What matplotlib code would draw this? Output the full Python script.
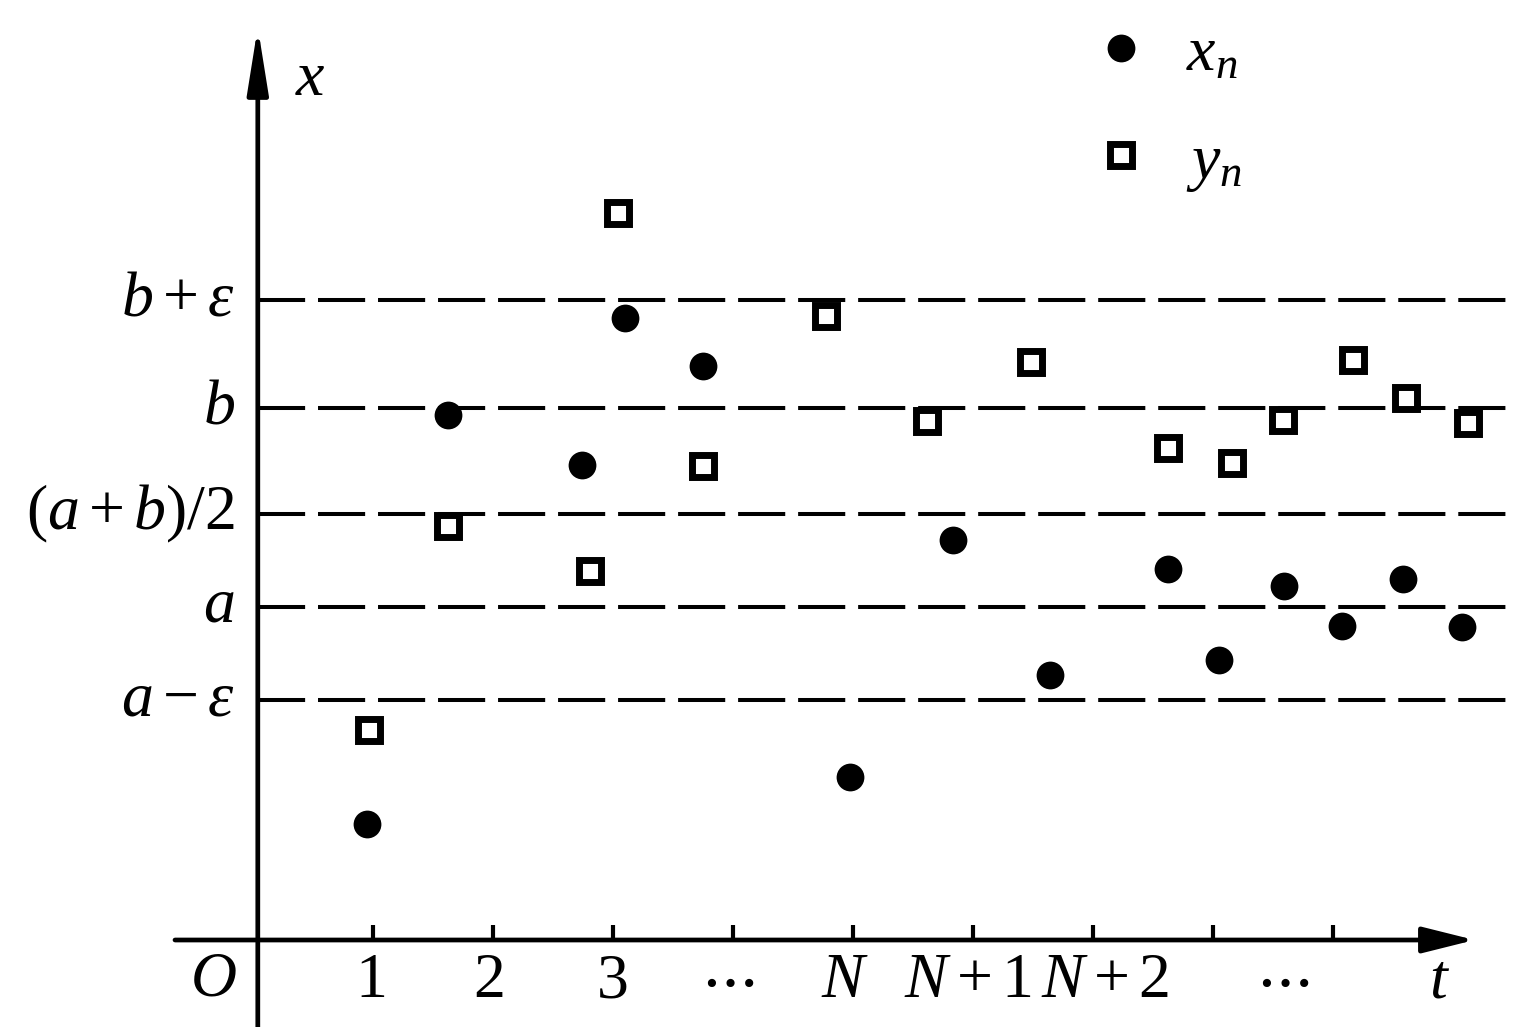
import numpy as np
import matplotlib
matplotlib.use("Agg")
import matplotlib.pyplot as plt

plt.rcParams['font.family'] = ['Liberation Serif', 'DejaVu Serif']
plt.rcParams['mathtext.fontset'] = 'custom'
plt.rcParams['mathtext.rm'] = 'Liberation Serif'
plt.rcParams['mathtext.it'] = 'Liberation Serif:italic'
plt.rcParams['mathtext.bf'] = 'Liberation Serif:bold'

# horizontal reference levels (x value) and their labels
level_labels = [r'$a-\varepsilon$', r'$a$', r'$(a+b)/2$', r'$b$', r'$b+\varepsilon$']
level_values = [2.40, 3.33, 4.26, 5.32, 6.40]

# time ticks and labels
tick_t = [1, 2, 3, 4, 5, 6, 7, 8, 9]
tick_labels = ['1', '2', '3', r'$\cdots$', '$N$', '$N+1$', '$N+2$', r'$\cdots$']

# sequence x_n (filled circles)
xn_t = [0.95, 1.625, 2.74, 3.10, 3.75, 4.975, 5.83, 6.64, 7.625, 8.05, 8.59, 9.075, 9.58, 10.075]
xn_val = [1.16, 5.25, 4.75, 6.22, 5.74, 1.63, 4.00, 2.65, 3.71, 2.80, 3.54, 3.14, 3.61, 3.13]

# sequence y_n (open squares)
yn_t = [0.967, 1.625, 2.81, 3.04, 3.75, 4.775, 5.62, 6.48, 7.625, 8.16, 8.58, 9.17, 9.61, 10.125]
yn_val = [2.10, 4.14, 3.69, 7.27, 4.74, 6.24, 5.19, 5.78, 4.92, 4.77, 5.20, 5.80, 5.42, 5.17]

fs = 46

fig = plt.figure(figsize=(15.14, 10.27), dpi=100)
ax = fig.add_axes([0, 0, 1, 1])
ax.set_xlim(-2.1083, 10.5083)
ax.set_ylim(-0.87, 9.40)
ax.axis('off')

y0 = 0.04  # position of the vertical axis

# dashed levels
for v in level_values:
    ax.plot([y0, 10.6], [v, v], color='k', lw=2.9, ls=(0, (11.7, 3.2)),
            solid_capstyle='butt', zorder=1)
for lab, v in zip(level_labels, level_values):
    ax.text(-0.15, v, lab, ha='right', va='center', fontsize=fs)

# axes with arrows
ax.annotate('', xy=(10.18, 0), xytext=(-0.65, 0),
            arrowprops=dict(arrowstyle='-|>,head_length=1.6,head_width=0.40',
                            lw=3.4, color='k', shrinkA=0, shrinkB=0,
                            mutation_scale=20))
ax.annotate('', xy=(y0, 9.13), xytext=(y0, -0.9),
            arrowprops=dict(arrowstyle='-|>,head_length=2.0,head_width=0.32',
                            lw=3.4, color='k', shrinkA=0, shrinkB=0,
                            mutation_scale=20))

# ticks
for t in tick_t:
    ax.plot([t, t], [0, 0.15], color='k', lw=3.0, solid_capstyle='butt')

label_pos = [0.99, 1.97, 3.0, 3.95, 4.93, 5.96, 7.1, 8.58]
for p, lab in zip(label_pos, tick_labels):
    ax.text(p, -0.42, lab, ha='center', va='center', fontsize=fs)
ax.text(9.89, -0.42, '$t$', ha='center', va='center', fontsize=fs)
ax.text(-0.33, -0.40, '$O$', ha='center', va='center', fontsize=fs)
ax.text(0.48, 8.60, '$x$', ha='center', va='center', fontsize=fs)

# data
ax.plot(xn_t, xn_val, 'o', color='k', ms=20, mew=0, label='$x_n$', zorder=3)
ax.plot(yn_t, yn_val, 's', mfc='white', mec='k', ms=16, mew=5, label='$y_n$', zorder=3)

ax.legend(loc='upper left', bbox_to_anchor=(0.7025, 1.0), frameon=False,
          numpoints=1, fontsize=fs, handlelength=1.0, handletextpad=0.52,
          labelspacing=0.76, borderaxespad=0)

fig.savefig('out.png', dpi=100)
